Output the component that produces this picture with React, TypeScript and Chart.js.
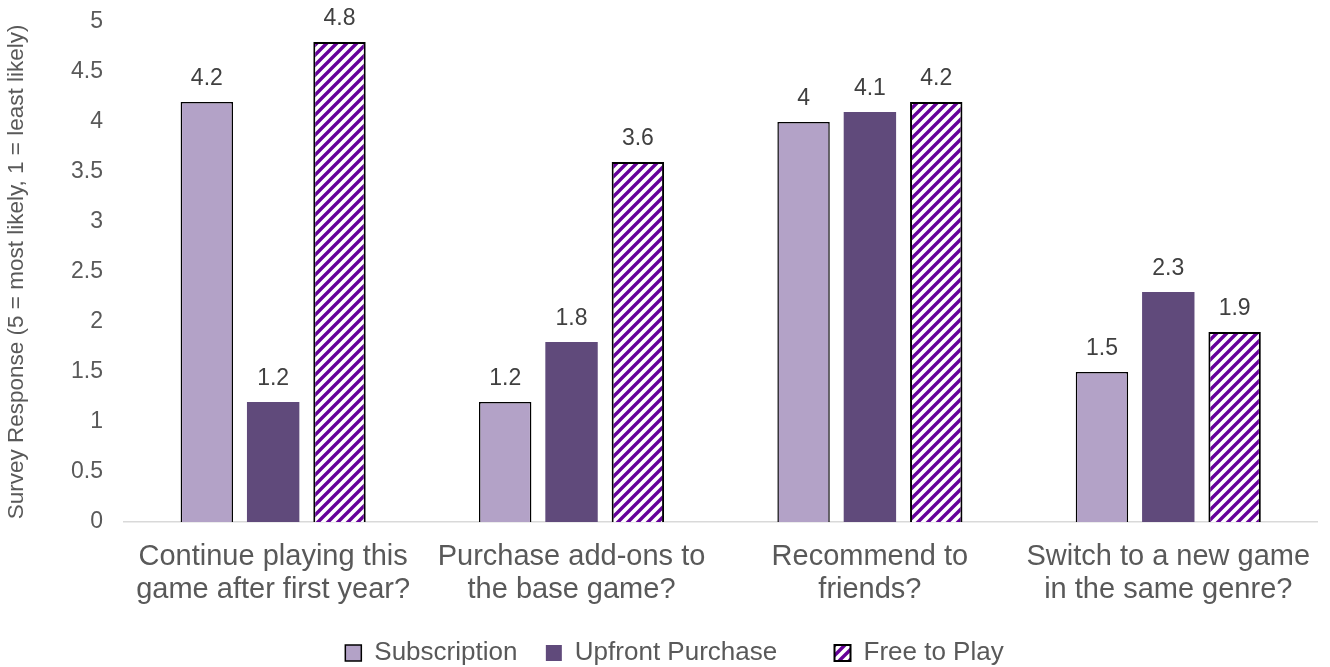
import React, { useEffect, useRef } from "react";
import { Chart, registerables } from "chart.js";

Chart.register(...registerables);

const categories: string[][] = [
  ["Continue playing this", "game after first year?"],
  ["Purchase add-ons to", "the base game?"],
  ["Recommend to", "friends?"],
  ["Switch to a new game", "in the same genre?"],
];
const subscription = [4.2, 1.2, 4.0, 1.5];
const upfront = [1.2, 1.8, 4.1, 2.3];
const freeToPlay = [4.8, 3.6, 4.2, 1.9];
const seriesNames = ["Subscription", "Upfront Purchase", "Free to Play"];
const legendGaps = ["  ", "      ", ""];
const yTitle = "Survey Response (5 = most likely, 1 = least likely)";

function makeHatch(): CanvasPattern | string {
  const s = 10;
  const c = document.createElement("canvas");
  c.width = s;
  c.height = s;
  const g = c.getContext("2d");
  if (!g) return "#660099";
  g.fillStyle = "#ffffff";
  g.fillRect(0, 0, s, s);
  g.strokeStyle = "#660099";
  g.lineWidth = 3.4;
  g.lineCap = "square";
  g.beginPath();
  g.moveTo(0, s);
  g.lineTo(s, 0);
  g.moveTo(-2, 2);
  g.lineTo(2, -2);
  g.moveTo(s - 2, s + 2);
  g.lineTo(s + 2, s - 2);
  g.stroke();
  const p = g.createPattern(c, "repeat");
  return p || "#660099";
}

const valueLabels = {
  id: "valueLabels",
  afterDatasetsDraw(chart: any) {
    const ctx = chart.ctx;
    ctx.save();
    ctx.font = "23px 'Liberation Sans', Arial, sans-serif";
    ctx.fillStyle = "#404040";
    ctx.textAlign = "center";
    ctx.textBaseline = "bottom";
    chart.data.datasets.forEach((ds: any, i: number) => {
      const meta = chart.getDatasetMeta(i);
      meta.data.forEach((bar: any, j: number) => {
        ctx.fillText(String(ds.data[j]), bar.x, bar.y - 12);
      });
    });
    ctx.restore();
  },
};

export default function App() {
  const ref = useRef<HTMLCanvasElement>(null);
  useEffect(() => {
    document.body.style.margin = "0";
    if (!ref.current) return;
    const hatch = makeHatch();
    const font = "'Liberation Sans', Arial, sans-serif";
    const chart = new Chart(ref.current, {
      type: "bar",
      data: {
        labels: categories,
        datasets: [
          {
            label: seriesNames[0],
            data: subscription,
            backgroundColor: "#b3a2c7",
            borderColor: "#000000",
            borderWidth: 1.5,
          },
          {
            label: seriesNames[1],
            data: upfront,
            backgroundColor: "#604a7b",
            borderColor: "#604a7b",
            borderWidth: 0,
          },
          {
            label: seriesNames[2],
            data: freeToPlay,
            backgroundColor: hatch as any,
            borderColor: "#000000",
            borderWidth: 2,
          },
        ],
      },
      options: {
        animation: false,
        responsive: true,
        maintainAspectRatio: false,
        categoryPercentage: 0.667,
        barPercentage: 0.79,
        layout: { padding: { top: 0, right: 7, left: 26, bottom: -9 } },
        plugins: {
          legend: {
            position: "bottom",
            labels: {
              font: { family: font, size: 26 },
              color: "#595959",
              boxWidth: 16,
              boxHeight: 16,
              padding: 14,
              generateLabels: (chart: any) => {
                const items = Chart.defaults.plugins.legend.labels.generateLabels(chart);
                return items.map((it: any, i: number) => ({
                  ...it,
                  text: it.text + legendGaps[i],
                }));
              },
            },
          },
          tooltip: { enabled: false },
        },
        scales: {
          x: {
            grid: { display: false, drawTicks: false },
            border: { display: true, color: "#d9d9d9", width: 1.5 },
            ticks: {
              font: { family: font, size: 29, lineHeight: 1.14 },
              color: "#595959",
              maxRotation: 0,
              autoSkip: false,
              padding: 19,
            },
          },
          y: {
            min: 0,
            max: 5,
            grid: { display: false, drawTicks: false },
            border: { display: false },
            ticks: {
              stepSize: 0.5,
              font: { family: font, size: 23, lineHeight: 0.08 },
              color: "#595959",
              padding: 21,
              callback: (v: any) => String(Number(v)),
            },
            title: {
              display: true,
              text: yTitle,
              font: { family: font, size: 22.5 },
              color: "#595959",
              padding: { top: -22.5, bottom: 19.5 },
            },
          },
        },
      },
      plugins: [valueLabels],
    });
    return () => chart.destroy();
  }, []);
  return (
    <div style={{ width: 1330, height: 667, position: "relative" }}>
      <canvas ref={ref} />
    </div>
  );
}
